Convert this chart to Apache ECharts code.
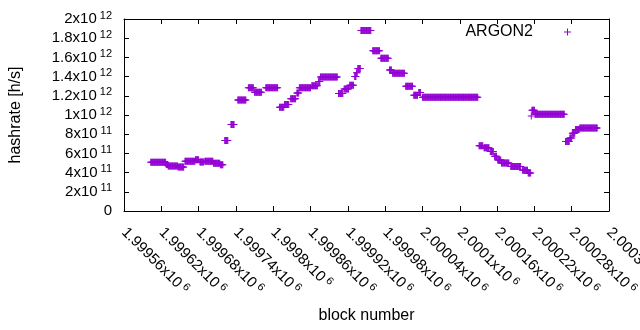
<!DOCTYPE html>
<html>
<head>
<meta charset="utf-8">
<script src="https://cdn.jsdelivr.net/npm/echarts@6/dist/echarts.min.js"></script>
<style>
html, body { margin: 0; padding: 0; background: #fff; }
#chart { width: 640px; height: 330px; }
</style>
</head>
<body>
<div id="chart"></div>
<script>
// hashrate runs: block range [start, end] with one value
var runStart = [1999603, 1999628, 1999631, 1999647, 1999658, 1999675, 1999682, 1999690, 1999704, 1999715,
    1999722, 1999732, 1999743, 1999760, 1999770, 1999788,
    1999810, 1999818, 1999828, 1999838, 1999842, 1999862, 1999873, 1999876,
    1999905, 1999914, 1999923, 1999931, 1999934, 1999936, 1999941, 1999960, 1999973, 1999987,
    1999992, 2000013, 2000026, 2000034, 2000040,
    2000131, 2000139, 2000149, 2000156, 2000161, 2000167, 2000182, 2000201, 2000210,
    2000215, 2000216, 2000221,
    2000270, 2000277, 2000281, 2000286, 2000293];
var runEnd = [1999627, 1999630, 1999646, 1999656, 1999674, 1999680, 1999688, 1999703, 1999714, 1999719,
    1999727, 1999737, 1999756, 1999768, 1999781, 1999807,
    1999817, 1999825, 1999836, 1999841, 1999860, 1999871, 1999875, 1999903,
    1999912, 1999921, 1999929, 1999933, 1999935, 1999940, 1999957, 1999971, 1999985, 1999990,
    2000011, 2000024, 2000032, 2000037, 2000129,
    2000137, 2000147, 2000154, 2000159, 2000166, 2000179, 2000198, 2000209, 2000214,
    2000215, 2000220, 2000268,
    2000276, 2000280, 2000285, 2000292, 2000321];
var runHashrate = [5.07e11, 4.85e11, 4.69e11, 4.58e11, 5.18e11, 5.34e11, 5.10e11, 5.18e11, 4.97e11, 4.82e11,
    7.35e11, 9.0e11, 11.55e11, 12.85e11, 12.36e11, 12.85e11,
    10.8e11, 11.1e11, 11.7e11, 12.3e11, 12.85e11, 13.05e11, 13.5e11, 13.95e11,
    12.25e11, 12.7e11, 13.1e11, 14.0e11, 14.4e11, 14.85e11, 18.8e11, 16.7e11, 15.9e11, 14.7e11,
    14.35e11, 13.0e11, 12.05e11, 12.35e11, 11.84e11,
    6.8e11, 6.6e11, 6.2e11, 5.7e11, 5.3e11, 5.0e11, 4.63e11, 4.25e11, 3.95e11,
    9.9e11, 10.5e11, 10.07e11,
    7.25e11, 7.6e11, 8.1e11, 8.5e11, 8.65e11];

var seriesName = 'ARGON2';
var xName = 'block number';
var yName = 'hashrate [h/s]';

var FONT = 'Liberation Sans';
var COLOR = '#9400d3';
var PLUS = 'path://M0,3h7v1h-7zM3,0h1v7h-1z';

// one point per block
var points = [];
for (var i = 0; i < runStart.length; i++) {
    for (var b = runStart[i]; b <= runEnd[i]; b++) {
        points.push([b, runHashrate[i]]);
    }
}

function sci(v) {
    if (v === 0) return '{m|0}';
    var e = Math.floor(Math.log10(v) + 1e-9);
    var m = +(v / Math.pow(10, e)).toFixed(5);
    return '{m|' + m + 'x10}{e|' + e + '}';
}

var rich = {
    m: { fontFamily: FONT, fontSize: 15, color: '#000', lineHeight: 18 },
    e: { fontFamily: FONT, fontSize: 11, color: '#000', lineHeight: 11, verticalAlign: 'top', padding: [0, 0, 0, 3] }
};

var line = { onZero: false, lineStyle: { color: '#000', width: 1 } };
var tick = { inside: true, length: 5, lineStyle: { color: '#000' } };
var nameStyle = { fontFamily: FONT, fontSize: 16, color: '#000' };

var chart = echarts.init(document.getElementById('chart'));
chart.setOption({
    animation: false,
    grid: { left: 124, right: 31, top: 19, bottom: 119, containLabel: false, outerBoundsMode: 'none' },
    legend: {
        data: [{ name: seriesName, icon: PLUS }],
        align: 'right',
        right: 69,
        top: 24,
        padding: 0,
        itemWidth: 7,
        itemHeight: 7,
        textStyle: { fontFamily: FONT, fontSize: 16, color: '#000', padding: [0, 26, 0, 0] }
    },
    xAxis: [{
        type: 'value',
        min: 1999560,
        max: 2000340,
        interval: 60,
        name: xName,
        nameLocation: 'middle',
        nameGap: 97,
        nameTextStyle: nameStyle,
        axisLine: line,
        axisTick: tick,
        axisLabel: { rotate: -45, margin: 19, formatter: sci, rich: rich },
        splitLine: { show: false }
    }, {
        type: 'value',
        position: 'top',
        min: 1999560,
        max: 2000340,
        interval: 60,
        axisLine: line,
        axisTick: tick,
        axisLabel: { show: false },
        splitLine: { show: false }
    }],
    yAxis: [{
        type: 'value',
        min: 0,
        max: 2e12,
        interval: 2e11,
        name: yName,
        nameLocation: 'middle',
        nameGap: 100,
        nameTextStyle: nameStyle,
        axisLine: line,
        axisTick: tick,
        axisLabel: { margin: 12, formatter: sci, rich: rich },
        splitLine: { show: false }
    }, {
        type: 'value',
        position: 'right',
        min: 0,
        max: 2e12,
        interval: 2e11,
        axisLine: line,
        axisTick: tick,
        axisLabel: { show: false },
        splitLine: { show: false }
    }],
    series: [{
        name: seriesName,
        type: 'scatter',
        symbol: PLUS,
        symbolSize: 7,
        itemStyle: { color: COLOR, opacity: 1 },
        data: points
    }]
});
</script>
</body>
</html>
